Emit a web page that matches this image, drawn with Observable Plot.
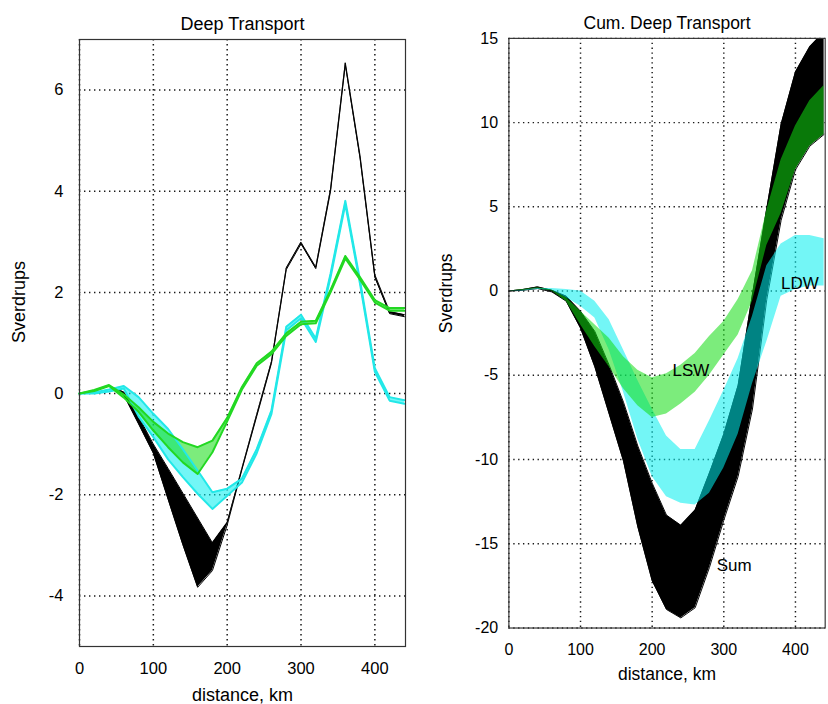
<!DOCTYPE html>
<html><head><meta charset="utf-8">
<script src="https://cdn.jsdelivr.net/npm/d3@7"></script>
<script src="https://cdn.jsdelivr.net/npm/@observablehq/plot@0.6"></script>
<style>
html,body{margin:0;padding:0;background:#fff;overflow:hidden;}
#wrap{position:relative;width:828px;height:704px;overflow:hidden;background:#fff;}
#left,#right{position:absolute;top:0;}
#left{left:0;} #right{left:420px;}
</style></head><body><div id="wrap"><div id="left"></div><div id="right"></div></div>
<script>
// distance (km)
const km = [0,20,40,60,80,100,120,140,160,180,200,220,240,260,280,300,320,340,360,380,400,420,440];

// Deep Transport (Sv) – band bounds
const deepSumHi = [0,0.05,0.15,0.03,-0.45,-1.0,-1.48,-1.97,-2.46,-2.95,-2.55,-1.48,-0.42,0.63,2.48,2.99,2.5,4.04,6.54,4.7,2.35,1.62,1.56];
const deepSumLo = [0,0.05,0.15,-0.03,-0.6,-1.18,-2.09,-2.99,-3.83,-3.5,-2.6,-1.5,-0.45,0.6,2.45,2.96,2.47,4.0,6.5,4.65,2.3,1.58,1.52];
const deepLdwHi = [0,0.02,0.08,0.15,-0.07,-0.4,-0.7,-1.1,-1.52,-1.95,-1.88,-1.68,-1.1,-0.33,1.32,1.56,1.09,2.37,3.81,2.23,0.5,-0.07,-0.13];
const deepLdwLo = [0,0,0.04,0.1,-0.45,-0.86,-1.3,-1.65,-1.98,-2.28,-2.02,-1.76,-1.18,-0.4,1.25,1.49,1.02,2.3,3.74,2.16,0.43,-0.14,-0.2];
const deepLswHi = [0,0.07,0.17,-0.02,-0.27,-0.56,-0.79,-0.96,-1.06,-0.93,-0.48,0.13,0.6,0.83,1.19,1.42,1.44,2.05,2.72,2.3,1.85,1.69,1.69];
const deepLswLo = [0,0.05,0.15,-0.08,-0.36,-0.73,-1.06,-1.36,-1.59,-1.16,-0.55,0.08,0.55,0.78,1.14,1.37,1.39,2.0,2.67,2.25,1.8,1.64,1.64];

// Cumulative Deep Transport (Sv) – band bounds
const cumSumHi = [0,0.1,0.25,0.05,-0.3,-1.2,-2.4,-4.4,-6.6,-9.2,-11.4,-13.3,-13.9,-13.0,-10.8,-8.5,-5.6,-0.2,4.9,9.9,13.0,14.5,15.4];
const cumSumLo = [0,0.05,0.15,-0.05,-0.6,-2.2,-4.5,-7.3,-10.1,-14.0,-17.2,-18.9,-19.4,-18.8,-16.4,-13.6,-11.0,-7.0,-0.5,4.2,7.2,8.6,9.3];
const cumLswHi = [0,0.1,0.2,0.05,-0.4,-1.2,-2.0,-2.8,-3.9,-4.7,-5.15,-4.9,-4.4,-3.7,-2.7,-1.8,-0.5,1.2,4.8,7.8,9.8,11.3,12.2];
const cumLswLo = [0,0.05,0.15,0.0,-0.6,-2.0,-3.3,-4.5,-5.8,-6.8,-7.5,-7.3,-6.7,-6.0,-5.0,-3.8,-2.6,-0.6,2.7,4.6,7.2,8.6,9.3];
const cumLdwHi = [0,0.05,0.15,0.15,0.1,0.0,-0.6,-1.7,-3.5,-5.3,-7.0,-8.6,-9.4,-9.4,-7.7,-5.9,-4.0,-1.5,1.5,2.8,3.3,3.3,3.1];
const cumLdwLo = [0,0,0.1,0.05,-0.4,-0.9,-1.6,-3.5,-6.0,-8.8,-11.0,-12.2,-12.6,-12.7,-12.0,-10.5,-8.5,-5.5,-3.0,-0.3,0.1,0.3,0.3];

// axes
const xTicks = [0,100,200,300,400];
const deepYTicks = [-4,-2,0,2,4,6];
const cumYTicks = [-20,-15,-10,-5,0,5,10,15];
const titles = ["Deep Transport","Cum. Deep Transport"];
const xLabel = "distance, km";
const yLabel = "Sverdrups";

// series labels on the cumulative panel
const seriesLabels = ["LSW","LDW","Sum"];
const labelKm = [254,380,290];
const labelSv = [-4.7,0.45,-16.3];

const FONT = "'Liberation Sans', Arial, Helvetica, sans-serif";
const rows = (lo, hi) => km.map((x, i) => ({x, lo: lo[i], hi: hi[i]}));
const fmt = d => String(d);

function panel(o) {
  const marks = [
    Plot.gridX(xTicks, {stroke: "#000", strokeOpacity: 0.9, strokeWidth: 1.5, strokeDasharray: "1.4,3.6"}),
    Plot.gridY(o.yTicks, {stroke: "#000", strokeOpacity: 0.9, strokeWidth: 1.5, strokeDasharray: "1.4,3.6"}),
    Plot.areaY(rows(o.sumLo, o.sumHi), {x: "x", y1: "lo", y2: "hi", fill: "#000", clip: true}),
    Plot.lineY(rows(o.sumLo, o.sumHi), {x: "x", y: "hi", stroke: "#000", strokeWidth: 1, clip: true}),
    Plot.lineY(rows(o.sumLo, o.sumHi), {x: "x", y: "lo", stroke: "#000", strokeWidth: 1, clip: true}),
    Plot.areaY(rows(o.ldwLo, o.ldwHi), {x: "x", y1: "lo", y2: "hi", fill: "#00eeee", fillOpacity: 0.55, clip: true}),
    Plot.areaY(rows(o.lswLo, o.lswHi), {x: "x", y1: "lo", y2: "hi", fill: "#11dd11", fillOpacity: 0.55, clip: true})
  ];
  if (o.edges) {
    marks.push(
      Plot.lineY(rows(o.ldwLo, o.ldwHi), {x: "x", y: "hi", stroke: "#22e8e8", strokeWidth: 2}),
      Plot.lineY(rows(o.ldwLo, o.ldwHi), {x: "x", y: "lo", stroke: "#22e8e8", strokeWidth: 2}),
      Plot.lineY(rows(o.lswLo, o.lswHi), {x: "x", y: "hi", stroke: "#22d822", strokeWidth: 2}),
      Plot.lineY(rows(o.lswLo, o.lswHi), {x: "x", y: "lo", stroke: "#22d822", strokeWidth: 2})
    );
  }
  marks.push(
    Plot.frame({stroke: "#333", strokeWidth: 1.2}),
    Plot.axisX(xTicks, {tickSize: 0, tickPadding: 16, fontSize: 16.5, label: null, tickFormat: fmt}),
    Plot.axisY(o.yTicks, {tickSize: 0, tickPadding: o.tickPad, fontSize: 16.5, label: null, tickFormat: fmt}),
    Plot.text([o.title], {frameAnchor: "top", dy: -22, fontSize: 18}),
    Plot.text([xLabel], {frameAnchor: "bottom", dy: 54, fontSize: 18}),
    Plot.text([yLabel], {frameAnchor: "left", dx: o.yLabDx, rotate: -90, fontSize: 18})
  );
  if (o.labels) {
    const ann = seriesLabels.map((t, i) => ({t, x: labelKm[i], y: labelSv[i]}));
    marks.push(
      Plot.text(ann.filter(d => d.t === "LSW"), {x: "x", y: "y", text: "t", fontSize: 17.5, textAnchor: "middle"}),
      Plot.text(ann.filter(d => d.t !== "LSW"), {x: "x", y: "y", text: "t", fontSize: 17.5, textAnchor: "start"})
    );
  }
  return Plot.plot({
    width: 420, height: 704,
    marginLeft: o.ml, marginRight: o.mr, marginTop: 39, marginBottom: 58,
    style: {fontFamily: FONT, fontSize: "16px", color: "#000", background: "transparent", overflow: "visible"},
    x: {domain: [0, 441.5]},
    y: {domain: o.yDomain},
    marks
  });
}

document.getElementById("left").append(panel({
  ml: 79, mr: 15, yDomain: [-5, 7], yTicks: deepYTicks, tickPad: 16, yLabDx: -60,
  title: titles[0], edges: true, labels: false,
  sumLo: deepSumLo, sumHi: deepSumHi, ldwLo: deepLdwLo, ldwHi: deepLdwHi, lswLo: deepLswLo, lswHi: deepLswHi
}));
document.getElementById("right").append(panel({
  ml: 91, mr: 3.4, yDomain: [-20, 15], yTicks: cumYTicks, tickPad: 11, yLabDx: -64,
  title: titles[1], edges: false, labels: true,
  sumLo: cumSumLo, sumHi: cumSumHi, ldwLo: cumLdwLo, ldwHi: cumLdwHi, lswLo: cumLswLo, lswHi: cumLswHi
}));
</script></body></html>
